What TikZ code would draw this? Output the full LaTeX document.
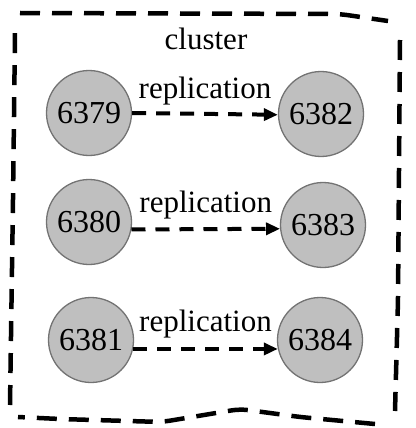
\documentclass[tikz,border=0pt]{standalone}
\usepackage{fontspec}
\setmainfont{Liberation Serif}
\usetikzlibrary{arrows.meta}
\begin{document}
\begin{tikzpicture}[x=1pt,y=-1pt,
  port/.style={circle, draw=black!55, line width=1.3pt, fill=black!25,
    minimum size=85pt, inner sep=0pt, font=\fontsize{32}{36}\selectfont},
  tag/.style={font=\fontsize{31}{36}\selectfont, inner sep=0pt},
  repl/.style={line width=4pt, dash pattern=on 14pt off 10pt,
    -{Triangle[length=14pt,width=12pt]}},
  frame/.style={line width=4.5pt, dash pattern=on 20pt off 12pt, rounded corners=8pt}]
\useasboundingbox (0,0) rectangle (415,428);

% hand-drawn cluster border, one stroke per side
\draw[frame] (20,13) -- (340,14) -- (388,21);
\draw[frame] (400,40) -- (398,300) -- (395,411);
\draw[frame] (375,424) -- (300,417) -- (240,409) -- (162,422) -- (60,419) -- (18,417);
\draw[frame] (10,405) -- (13,200) -- (15,33);

\node[tag, anchor=base] (title) at (206,50) {cluster};

% masters (left) and replicas (right)
\node[port] (m1) at (89,113) {6379};
\node[port] (r1) at (321,114) {6382};
\node[port] (m2) at (89,222) {6380};
\node[port] (r2) at (323,225) {6383};
\node[port] (m3) at (91,340) {6381};
\node[port] (r3) at (320,340) {6384};

\draw[repl] (m1.0) -- node[tag, anchor=base, yshift=15pt] (t1) {replication} (r1.181);
\draw[repl] (m2.-10) -- node[tag, anchor=base, yshift=17pt] (t2) {replication} (r2.185);
\draw[repl] (m3.-12.5) -- node[tag, anchor=base, yshift=17pt] (t3) {replication} (r3.192.5);
\end{tikzpicture}
\end{document}
